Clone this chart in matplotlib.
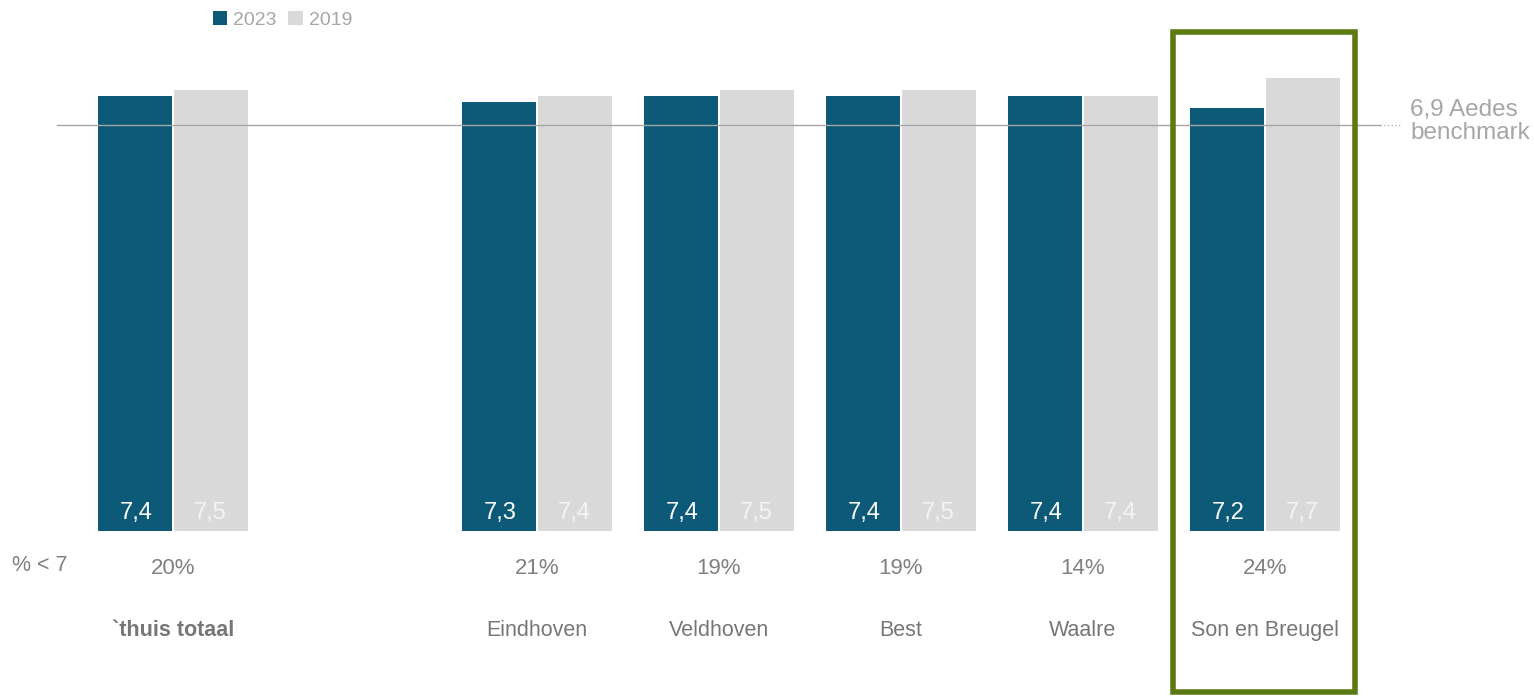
import matplotlib.pyplot as plt
from matplotlib.patches import Rectangle
import numpy as np

plt.rcParams['font.family'] = ['Liberation Sans', 'DejaVu Sans']

groups = ['`thuis totaal', 'Eindhoven', 'Veldhoven', 'Best', 'Waalre', 'Son en Breugel']
positions = [0, 2, 3, 4, 5, 6]
score_2023 = [7.4, 7.3, 7.4, 7.4, 7.4, 7.2]
score_2019 = [7.5, 7.4, 7.5, 7.5, 7.4, 7.7]
pct_below_7 = ['20%', '21%', '19%', '19%', '14%', '24%']
benchmark = 6.9

dark = '#0d5a78'
light = '#d9d9d9'

fig = plt.figure(figsize=(15.34, 6.98), dpi=100)
ax = fig.add_axes([0, 0, 1, 1])

# map pixels: x = 173 + 182*pos, baseline at 531px, 58.8 px per unit
ax.set_xlim(-173 / 182, (1534 - 173) / 182)
ax.set_ylim(-(698 - 531) / 58.8, 531 / 58.8)
ax.axis('off')

w = 74 / 182
x = np.array(positions, dtype=float)
ax.bar(x - w / 2 - 0.005, score_2023, width=w, color=dark, label='2023', zorder=2)
ax.bar(x + w / 2 + 0.005, score_2019, width=w, color=light, label='2019', zorder=2)

# benchmark line
ax.plot([-0.637, 6.63], [benchmark, benchmark], color='#a6a6a6', lw=1, zorder=3)
ax.plot([6.63, 6.74], [benchmark, benchmark], color='#b5b5b5', lw=1, ls=':', zorder=3)
ax.text(6.797, benchmark + 0.26, '6,9 Aedes', color='#a6a6a6', fontsize=17.5,
        va='center', ha='left')
ax.text(6.797, benchmark - 0.135, 'benchmark', color='#a6a6a6', fontsize=17.5,
        va='center', ha='left')

for xi, a, b, p, g in zip(x, score_2023, score_2019, pct_below_7, groups):
    ax.text(xi - w / 2, 0.31, f'{a:.1f}'.replace('.', ','), color='white', fontsize=17,
            ha='center', va='center', zorder=4)
    ax.text(xi + w / 2, 0.31, f'{b:.1f}'.replace('.', ','), color='#f4f4f4', fontsize=17,
            ha='center', va='center', zorder=4)
    ax.text(xi, -0.63, p, color='#808080', fontsize=16, ha='center', va='center')
    ax.text(xi, -1.69, g, color='#767676', fontsize=15.5, ha='center', va='center',
            fontweight='bold' if g.startswith('`') else 'normal')

ax.text(-0.732, -0.58, '% < 7', color='#808080', fontsize=15.5, ha='center', va='center')

# highlight box around last group
ax.add_patch(Rectangle((6 - 92 / 182, -(692 - 531) / 58.8), 182 / 182, 660 / 58.8,
                       fill=False, edgecolor='#5b7b12', lw=4, zorder=5, clip_on=False))

leg = ax.legend(loc='upper left', bbox_to_anchor=(205 / 1534, 1 - 3 / 698), ncol=2,
                frameon=False, fontsize=14, handlelength=0.75, handleheight=0.75,
                handletextpad=0.3, columnspacing=0.6, borderaxespad=0)
for t in leg.get_texts():
    t.set_color('#a6a6a6')

fig.savefig('out.png', dpi=100)
